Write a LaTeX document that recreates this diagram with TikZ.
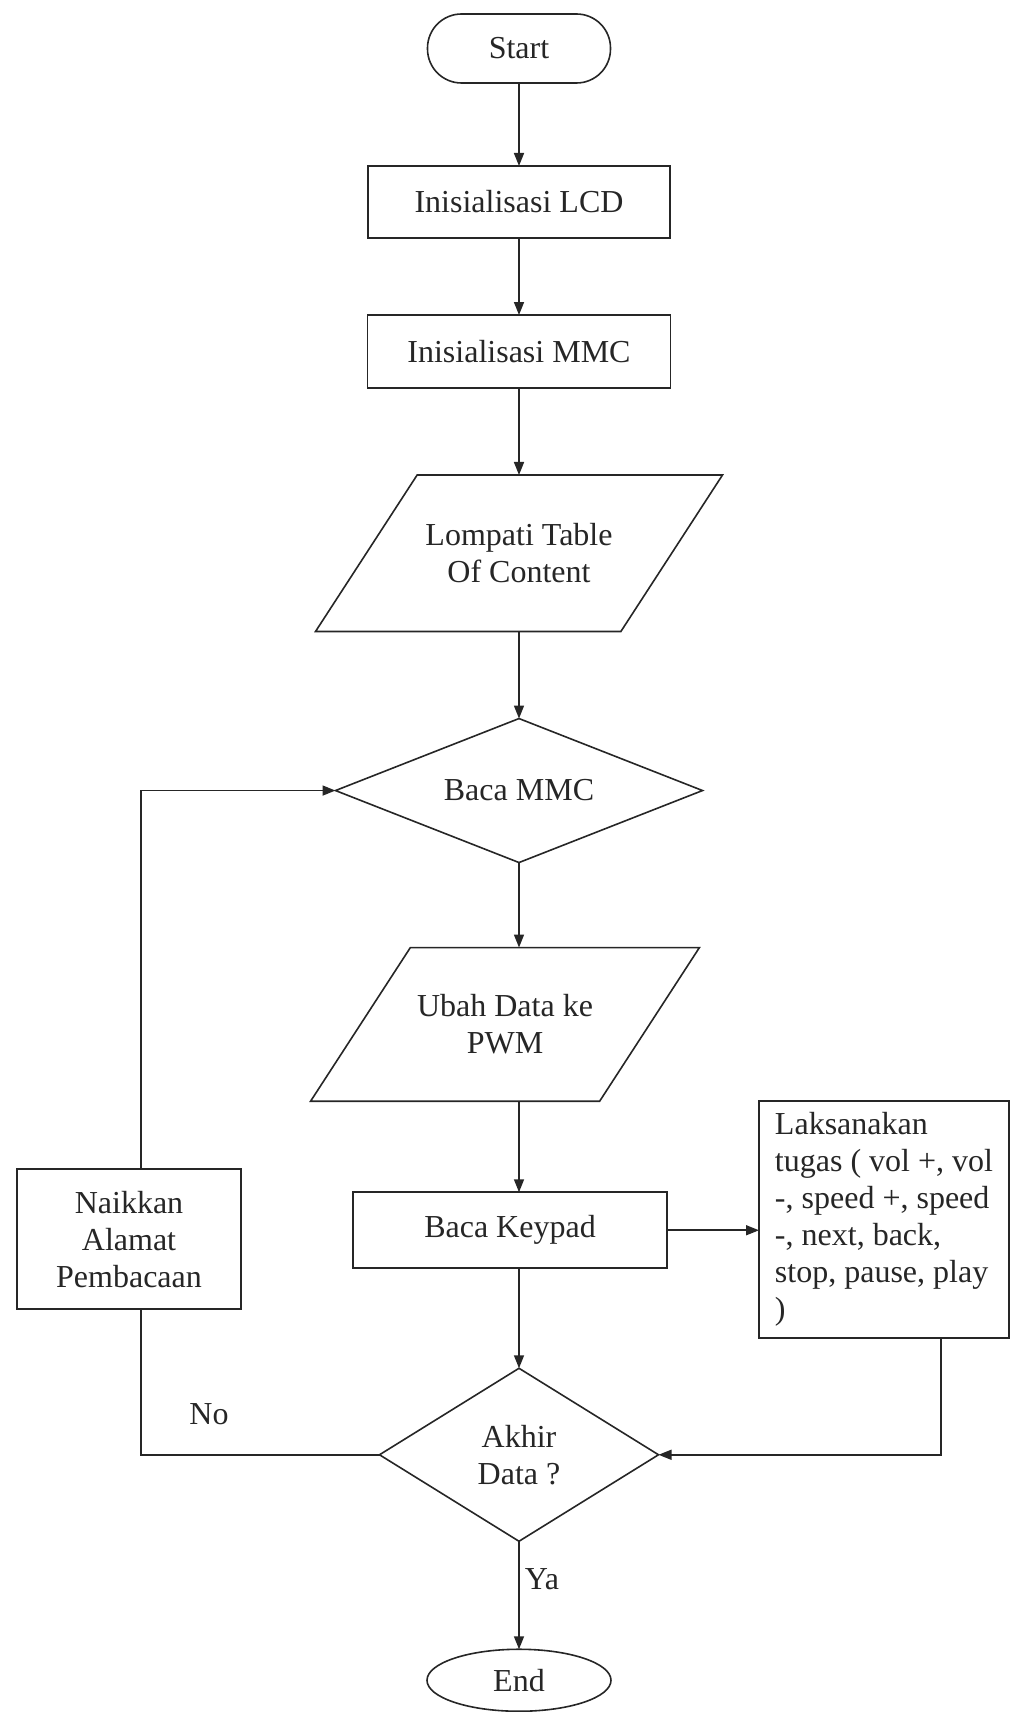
\documentclass[tikz,border=0pt]{standalone}
\usepackage{fontspec}
\setmainfont{Liberation Serif}
\usetikzlibrary{positioning,shapes.geometric,calc,arrows.meta}

\begin{document}
\begin{tikzpicture}[font=\fontsize{16}{18.5}\selectfont, color=black!85, >={Triangle[length=6.5pt,width=5pt]},
    proc/.style={draw, thick, fill=white, shape=rectangle, outer sep=0pt, align=center},
    io/.style={draw, thick, fill=white, shape=trapezium, trapezium left angle=57, trapezium right angle=123, trapezium stretches body=true, outer sep=0pt, align=center},
    decision/.style={draw, thick, fill=white, shape=diamond, inner sep=0pt, outer sep=0pt, align=center},
    terminal/.style={draw, thick, fill=white, outer sep=0pt, align=center}]
    \useasboundingbox (0,0) rectangle (504.5pt,-856pt);
    \node[terminal, rounded corners=17pt, style={minimum width=91.5pt, minimum height=34.5pt}] (start) at (259.5pt,-24.25pt) {Start};
    \node[proc, style={minimum width=151pt, minimum height=36pt}] (lcd) [below= 41.5pt of start] {Inisialisasi LCD};
    \node[proc, style={minimum width=151.5pt, minimum height=36.5pt}] (mmc) [below= 38.5pt of lcd] {Inisialisasi MMC};
    \node[io, inner ysep=24.25pt, style={minimum width=203.5pt}] (lompati) [below= 43.5pt of mmc] {Lompati Table\\Of Content};
    \node[decision, aspect=2.55, style={minimum width=183.5pt, minimum height=72pt}] (bacammc) [below= 43.5pt of lompati] {Baca MMC};
    \node[io, inner ysep=23.5pt, style={minimum width=193pt}] (ubah) [below= 42.5pt of bacammc, xshift=-7pt] {Ubah Data ke\\PWM};
    \node[proc, style={minimum width=157pt, minimum height=38pt}] (keypad) [below= 45.5pt of ubah, xshift=2.5pt] {Baca Keypad};
    \node[decision, aspect=1.6, style={minimum width=139.5pt, minimum height=86.5pt}] (akhir) [below= 50pt of keypad, xshift=4.5pt] {Akhir\\Data ?};
    \node[terminal, shape=ellipse, style={minimum width=92pt, minimum height=31pt}] (end) [below= 54pt of akhir] {End};
    \node[proc, style={minimum width=112pt, minimum height=70pt}] (naikkan) [left= 56pt of keypad, yshift=-4.5pt] {Naikkan\\Alamat\\Pembacaan};
    \node[proc, align=left, style={minimum width=125pt, minimum height=118.5pt}] (tugas) [right= 46pt of keypad, yshift=5.25pt] {Laksanakan\\tugas ( vol +, vol\\-, speed +, speed\\-, next, back,\\stop, pause, play\\)};
    \node (no) at (104.5pt,-707pt) {No};
    \node (ya) at (271pt,-789.5pt) {Ya};
    \draw[thick] (start) edge[->] (lcd) (lcd) edge[->] (mmc) (mmc) edge[->] (lompati) (lompati) edge[->] (bacammc);
    \draw[thick] (bacammc) edge[->] (bacammc |- ubah.north) (bacammc |- ubah.south) edge[->] (bacammc |- keypad.north);
    \draw[thick] (keypad.south -| akhir) edge[->] (akhir) (akhir) edge[->] (end);
    \draw[thick, ->] (keypad.east) -- (keypad.east -| tugas.west);
    \draw[thick, ->] ([xshift=28.5pt]tugas.south) |- (akhir.east);
    \draw[thick] (akhir.west) -| ([xshift=6pt]naikkan.south);
    \draw[thick, ->] ([xshift=6pt]naikkan.north) |- (bacammc.west);
\end{tikzpicture}
\end{document}
